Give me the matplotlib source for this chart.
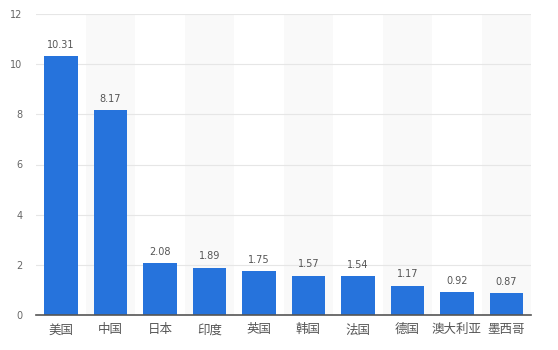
#!/usr/bin/env python3

import matplotlib.pyplot as plt

countries = ['美国', '中国', '日本', '印度', '英国', '韩国', '法国', '德国', '澳大利亚', '墨西哥']
values = [10.31, 8.17, 2.08, 1.89, 1.75, 1.57, 1.54, 1.17, 0.92, 0.87]
yticks = [0, 2, 4, 6, 8, 10, 12]

plt.rcParams['font.family'] = ['Noto Sans CJK SC', 'DejaVu Sans']


def plot(output_file):
    fig = plt.figure(figsize=(5.58, 3.5), dpi=100)
    ax = fig.add_axes([0.065, 0.1, 0.887, 0.86])

    x = list(range(len(countries)))

    # alternating background bands
    for i in x:
        if i % 2 == 1:
            ax.axvspan(i - 0.5, i + 0.5, color='#f9f9f9', zorder=0, lw=0)

    bars = ax.bar(x, values, width=0.68, color='#2673dc', zorder=3)

    for b, v in zip(bars, values):
        ax.text(b.get_x() + b.get_width() / 2, v + 0.25, f'{v:.2f}',
                ha='center', va='bottom', fontsize=7, color='#555555',
                family='DejaVu Sans')

    ax.set_xlim(-0.5, len(countries) - 0.5)
    ax.set_ylim(0, 12)
    ax.set_yticks(yticks)
    ax.set_xticks(x)
    ax.set_xticklabels(countries, fontsize=9, color='#555555')
    ax.tick_params(axis='y', labelsize=7, colors='#666666', length=0, pad=10)
    ax.tick_params(axis='x', length=0, pad=6)
    for lab in ax.get_yticklabels():
        lab.set_family('DejaVu Sans')

    # grid
    ax.yaxis.grid(True, color='#e6e6e6', linestyle='-', linewidth=0.8)
    ax.set_axisbelow(True)

    for side in ['top', 'right', 'left']:
        ax.spines[side].set_visible(False)
    ax.spines['bottom'].set_color('#555555')
    ax.spines['bottom'].set_linewidth(1.2)
    ax.spines['bottom'].set_zorder(4)

    plt.savefig(output_file, dpi=100)


def main():
    plot('out.png')


if __name__ == '__main__':
    main()
